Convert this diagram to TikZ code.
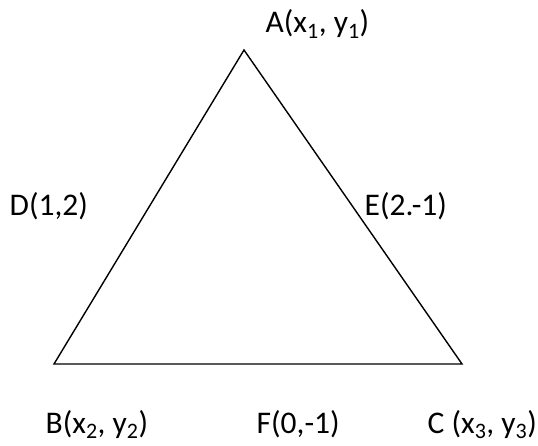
\documentclass[tikz,border=0pt]{standalone}
\usepackage{fontspec}
\setmainfont{Carlito}
\usepackage{tikz}
\usetikzlibrary{positioning}

\begin{document}
\begin{tikzpicture}[x=1pt, y=-1pt, line width=1.4pt,
    lbl/.style={anchor=base west, inner sep=0pt, font=\fontsize{31.5}{36}\selectfont}]
    \useasboundingbox (0,0) rectangle (538,446);
    % corners of the triangle
    \coordinate (a) at (244,50);
    \coordinate (b) at (54,364);
    \coordinate (c) at (462,364);
    \draw[line join=miter] (a) -- (b) -- (c) -- cycle;
    % point labels
    \node[lbl] (la) at (265,33) {A(x\textsubscript{1}, y\textsubscript{1})};
    \node[lbl] (ld) at (9,216) {D(1,2)};
    \node[lbl] (le) at (364,216) {E(2.-1)};
    \node[lbl] (lb) at (45,433) {B(x\textsubscript{2}, y\textsubscript{2})};
    \node[lbl] (lf) at (256,433) {F(0,-1)};
    \node[lbl] (lc) at (427,433) {C (x\textsubscript{3}, y\textsubscript{3})};
\end{tikzpicture}
\end{document}
